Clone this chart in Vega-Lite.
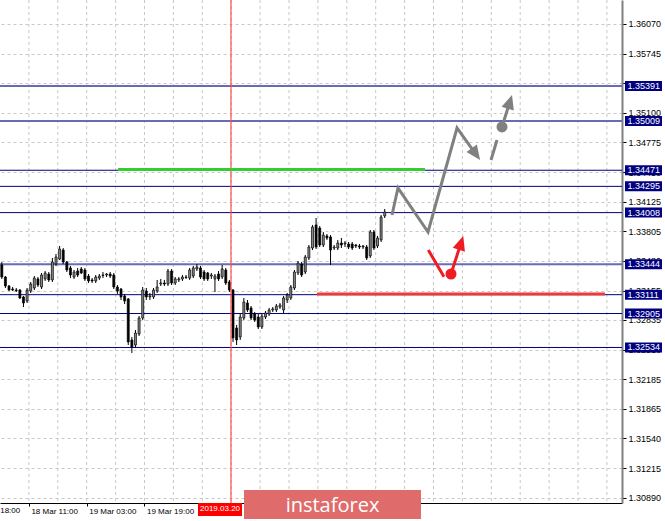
{
"$schema": "https://vega.github.io/schema/vega-lite/v6.json",
"width": 622, "height": 503,
"autosize": {"type": "none"},
"padding": {"left": 0, "top": 0, "right": 43, "bottom": 18},
"background": "white",
"config": {"view": {"stroke": null}, "font": "Liberation Sans"},
"datasets": {
"one": [{}],
"candles": [
{"t":0.5,"o":1.33436,"h":1.33468,"l":1.33283,"c":1.33304},
{"t":1.5,"o":1.33304,"h":1.33315,"l":1.33184,"c":1.33206},
{"t":2.5,"o":1.33206,"h":1.33217,"l":1.33151,"c":1.33162},
{"t":3.5,"o":1.33173,"h":1.33195,"l":1.33151,"c":1.33162},
{"t":4.5,"o":1.33162,"h":1.33184,"l":1.33140,"c":1.33157},
{"t":5.5,"o":1.33162,"h":1.33173,"l":1.33064,"c":1.33075},
{"t":6.5,"o":1.33086,"h":1.33097,"l":1.32976,"c":1.33020},
{"t":7.5,"o":1.33042,"h":1.33184,"l":1.33020,"c":1.33162},
{"t":8.5,"o":1.33151,"h":1.33250,"l":1.33130,"c":1.33228},
{"t":9.5,"o":1.33184,"h":1.33315,"l":1.33162,"c":1.33293},
{"t":10.5,"o":1.33283,"h":1.33304,"l":1.33195,"c":1.33217},
{"t":11.5,"o":1.33195,"h":1.33348,"l":1.33173,"c":1.33326},
{"t":12.5,"o":1.33283,"h":1.33370,"l":1.33261,"c":1.33348},
{"t":13.5,"o":1.33337,"h":1.33359,"l":1.33250,"c":1.33272},
{"t":14.5,"o":1.33272,"h":1.33512,"l":1.33250,"c":1.33468},
{"t":15.5,"o":1.33446,"h":1.33556,"l":1.33425,"c":1.33523},
{"t":16.5,"o":1.33501,"h":1.33643,"l":1.33490,"c":1.33610},
{"t":17.5,"o":1.33599,"h":1.33621,"l":1.33446,"c":1.33468},
{"t":18.5,"o":1.33468,"h":1.33479,"l":1.33359,"c":1.33381},
{"t":19.5,"o":1.33403,"h":1.33425,"l":1.33293,"c":1.33326},
{"t":20.5,"o":1.33304,"h":1.33381,"l":1.33283,"c":1.33359},
{"t":21.5,"o":1.33370,"h":1.33403,"l":1.33304,"c":1.33326},
{"t":22.5,"o":1.33392,"h":1.33414,"l":1.33337,"c":1.33348},
{"t":23.5,"o":1.33381,"h":1.33403,"l":1.33261,"c":1.33283},
{"t":24.5,"o":1.33315,"h":1.33337,"l":1.33239,"c":1.33261},
{"t":25.5,"o":1.33272,"h":1.33293,"l":1.33239,"c":1.33261},
{"t":26.5,"o":1.33261,"h":1.33326,"l":1.33239,"c":1.33304},
{"t":27.5,"o":1.33293,"h":1.33337,"l":1.33272,"c":1.33315},
{"t":28.5,"o":1.33326,"h":1.33359,"l":1.33293,"c":1.33321},
{"t":29.5,"o":1.33326,"h":1.33348,"l":1.33304,"c":1.33337},
{"t":30.5,"o":1.33337,"h":1.33359,"l":1.33293,"c":1.33315},
{"t":31.5,"o":1.33326,"h":1.33348,"l":1.33173,"c":1.33195},
{"t":32.5,"o":1.33195,"h":1.33217,"l":1.33119,"c":1.33151},
{"t":33.5,"o":1.33173,"h":1.33184,"l":1.33053,"c":1.33086},
{"t":34.5,"o":1.33097,"h":1.33119,"l":1.33009,"c":1.33042},
{"t":35.5,"o":1.33064,"h":1.33075,"l":1.32561,"c":1.32594},
{"t":36.5,"o":1.32616,"h":1.32649,"l":1.32474,"c":1.32539},
{"t":37.5,"o":1.32561,"h":1.32725,"l":1.32528,"c":1.32692},
{"t":38.5,"o":1.32681,"h":1.32878,"l":1.32660,"c":1.32856},
{"t":39.5,"o":1.32856,"h":1.33195,"l":1.32834,"c":1.33162},
{"t":40.5,"o":1.33151,"h":1.33184,"l":1.33053,"c":1.33086},
{"t":41.5,"o":1.33086,"h":1.33130,"l":1.33053,"c":1.33097},
{"t":42.5,"o":1.33086,"h":1.33184,"l":1.33064,"c":1.33162},
{"t":43.5,"o":1.33151,"h":1.33272,"l":1.33130,"c":1.33195},
{"t":44.5,"o":1.33228,"h":1.33283,"l":1.33206,"c":1.33239},
{"t":45.5,"o":1.33239,"h":1.33272,"l":1.33206,"c":1.33228},
{"t":46.5,"o":1.33228,"h":1.33392,"l":1.33206,"c":1.33370},
{"t":47.5,"o":1.33370,"h":1.33392,"l":1.33217,"c":1.33239},
{"t":48.5,"o":1.33239,"h":1.33304,"l":1.33217,"c":1.33283},
{"t":49.5,"o":1.33272,"h":1.33304,"l":1.33250,"c":1.33283},
{"t":50.5,"o":1.33283,"h":1.33326,"l":1.33261,"c":1.33304},
{"t":51.5,"o":1.33304,"h":1.33326,"l":1.33283,"c":1.33299},
{"t":52.5,"o":1.33293,"h":1.33403,"l":1.33272,"c":1.33381},
{"t":53.5,"o":1.33315,"h":1.33425,"l":1.33293,"c":1.33403},
{"t":54.5,"o":1.33392,"h":1.33446,"l":1.33370,"c":1.33414},
{"t":55.5,"o":1.33403,"h":1.33425,"l":1.33283,"c":1.33304},
{"t":56.5,"o":1.33359,"h":1.33381,"l":1.33261,"c":1.33283},
{"t":57.5,"o":1.33348,"h":1.33359,"l":1.33261,"c":1.33283},
{"t":58.5,"o":1.33315,"h":1.33348,"l":1.33283,"c":1.33326},
{"t":59.5,"o":1.33283,"h":1.33337,"l":1.33140,"c":1.33315},
{"t":60.5,"o":1.33337,"h":1.33370,"l":1.33261,"c":1.33283},
{"t":61.5,"o":1.33304,"h":1.33436,"l":1.33283,"c":1.33392},
{"t":62.5,"o":1.33381,"h":1.33403,"l":1.33217,"c":1.33239},
{"t":63.5,"o":1.33250,"h":1.33272,"l":1.33140,"c":1.33162},
{"t":64.5,"o":1.33162,"h":1.33173,"l":1.32594,"c":1.32638},
{"t":65.5,"o":1.32747,"h":1.32780,"l":1.32561,"c":1.32616},
{"t":66.5,"o":1.32649,"h":1.32900,"l":1.32616,"c":1.32867},
{"t":67.5,"o":1.32856,"h":1.33075,"l":1.32834,"c":1.33031},
{"t":68.5,"o":1.33020,"h":1.33053,"l":1.32922,"c":1.32944},
{"t":69.5,"o":1.32966,"h":1.32987,"l":1.32834,"c":1.32856},
{"t":70.5,"o":1.32900,"h":1.32922,"l":1.32813,"c":1.32834},
{"t":71.5,"o":1.32867,"h":1.32900,"l":1.32736,"c":1.32758},
{"t":72.5,"o":1.32758,"h":1.32900,"l":1.32736,"c":1.32878},
{"t":73.5,"o":1.32867,"h":1.32933,"l":1.32845,"c":1.32911},
{"t":74.5,"o":1.32900,"h":1.32966,"l":1.32878,"c":1.32944},
{"t":75.5,"o":1.32944,"h":1.32976,"l":1.32922,"c":1.32955},
{"t":76.5,"o":1.32944,"h":1.33009,"l":1.32922,"c":1.32987},
{"t":77.5,"o":1.32976,"h":1.33020,"l":1.32955,"c":1.32998},
{"t":78.5,"o":1.32944,"h":1.33097,"l":1.32911,"c":1.33075},
{"t":79.5,"o":1.33053,"h":1.33130,"l":1.33020,"c":1.33108},
{"t":80.5,"o":1.33075,"h":1.33217,"l":1.33053,"c":1.33195},
{"t":81.5,"o":1.33184,"h":1.33381,"l":1.33162,"c":1.33359},
{"t":82.5,"o":1.33348,"h":1.33479,"l":1.33326,"c":1.33457},
{"t":83.5,"o":1.33446,"h":1.33468,"l":1.33304,"c":1.33326},
{"t":84.5,"o":1.33359,"h":1.33545,"l":1.33337,"c":1.33523},
{"t":85.5,"o":1.33512,"h":1.33654,"l":1.33490,"c":1.33632},
{"t":86.5,"o":1.33621,"h":1.33873,"l":1.33599,"c":1.33851},
{"t":87.5,"o":1.33873,"h":1.33949,"l":1.33610,"c":1.33632},
{"t":88.5,"o":1.33840,"h":1.33862,"l":1.33632,"c":1.33654},
{"t":89.5,"o":1.33654,"h":1.33796,"l":1.33632,"c":1.33763},
{"t":90.5,"o":1.33753,"h":1.33774,"l":1.33709,"c":1.33731},
{"t":91.5,"o":1.33742,"h":1.33763,"l":1.33436,"c":1.33599},
{"t":92.5,"o":1.33621,"h":1.33654,"l":1.33599,"c":1.33632},
{"t":93.5,"o":1.33621,"h":1.33709,"l":1.33599,"c":1.33676},
{"t":94.5,"o":1.33676,"h":1.33731,"l":1.33621,"c":1.33654},
{"t":95.5,"o":1.33665,"h":1.33698,"l":1.33632,"c":1.33676},
{"t":96.5,"o":1.33665,"h":1.33687,"l":1.33610,"c":1.33632},
{"t":97.5,"o":1.33665,"h":1.33687,"l":1.33599,"c":1.33621},
{"t":98.5,"o":1.33654,"h":1.33665,"l":1.33621,"c":1.33643},
{"t":99.5,"o":1.33643,"h":1.33665,"l":1.33610,"c":1.33632},
{"t":100.5,"o":1.33632,"h":1.33654,"l":1.33610,"c":1.33643},
{"t":101.5,"o":1.33632,"h":1.33654,"l":1.33490,"c":1.33512},
{"t":102.5,"o":1.33534,"h":1.33818,"l":1.33512,"c":1.33796},
{"t":103.5,"o":1.33796,"h":1.33818,"l":1.33599,"c":1.33621},
{"t":104.5,"o":1.33643,"h":1.33753,"l":1.33621,"c":1.33731},
{"t":105.5,"o":1.33709,"h":1.33982,"l":1.33687,"c":1.33960},
{"t":106.5,"o":1.33971,"h":1.34048,"l":1.33949,"c":1.34015}
],
"levels": [{"p":1.35391},{"p":1.35009},{"p":1.34471},{"p":1.34295},{"p":1.34008},{"p":1.33444},{"p":1.33111},{"p":1.32905},{"p":1.32534}],
"vgrid": [{"t":8},{"t":16},{"t":24},{"t":32},{"t":40},{"t":48},{"t":56},{"t":64},{"t":72},{"t":80},{"t":88},{"t":96},{"t":104},{"t":112},{"t":120},{"t":128},{"t":136},{"t":144},{"t":152},{"t":160},{"t":168}],
"grayPath": [
{"g":"a","k":1,"t":108.51,"p":1.33982},{"g":"a","k":2,"t":110.17,"p":1.34277},{"g":"a","k":3,"t":118.48,"p":1.33796},{"g":"a","k":4,"t":126.51,"p":1.34933},{"g":"a","k":5,"t":131.6,"p":1.34654},
{"g":"b","k":1,"t":135.92,"p":1.34583},{"g":"b","k":2,"t":137.58,"p":1.34802},
{"g":"c","k":1,"t":138.96,"p":1.34944},{"g":"c","k":2,"t":141.07,"p":1.35211}
],
"redPath": [
{"g":"a","k":1,"t":118.56,"p":1.33599},{"g":"a","k":2,"t":122.9,"p":1.33308},
{"g":"b","k":1,"t":124.84,"p":1.33337},{"g":"b","k":2,"t":127.56,"p":1.33669}
]
},
"layer": [
{"data": {"name": "vgrid"}, "mark": {"type": "rule", "color": "#c8c8c8", "strokeDash": [3,3], "strokeWidth": 1},
 "encoding": {"x": {"field": "t", "type": "quantitative", "scale": {"domain": [0,172.18], "nice": false, "zero": false, "padding": 0},
   "title": null,
   "axis": {"orient": "bottom", "values": [8,24,40], "tickCount": 30, "labelExpr": "datum.value == 8 ? '18 Mar 11:00' : datum.value == 24 ? '19 Mar 03:00' : '19 Mar 19:00'", "grid": false, "domainColor": "#000000", "domainWidth": 1, "tickColor": "#000000", "tickSize": 3, "labelFont": "Liberation Sans", "labelFontSize": 8, "labelColor": "#000000", "labelAlign": "left", "labelOffset": 2, "labelPadding": 1, "labelFlush": false, "labelOverlap": false}}}},
{"data": {"name": "levels"}, "mark": {"type": "rule"},
 "encoding": {"y": {"field": "p", "type": "quantitative", "scale": {"domain": [1.30834,1.36332], "nice": false, "zero": false, "padding": 0},
   "title": null,
   "axis": {"orient": "right", "values": [1.3607,1.35745,1.3542,1.351,1.34775,1.3445,1.34125,1.33805,1.3348,1.33155,1.32835,1.3251,1.32185,1.31865,1.3154,1.31215,1.3089], "tickCount": 40, "format": ".5f", "grid": true, "gridColor": "#c8c8c8", "gridDash": [3,3], "gridWidth": 1, "domainColor": "#808080", "domainWidth": 2, "tickColor": "#000000", "tickSize": 4, "labelFont": "Liberation Sans", "labelFontSize": 9, "labelColor": "#000000", "labelPadding": 2, "labelBaseline": "middle", "labelFlush": false, "labelOverlap": false}},
  "color": {"condition": {"test": "datum.p == 1.35391 || datum.p == 1.35009 || datum.p == 1.33444", "value": "#6a6ab6"}, "value": "#00007a"},
  "strokeWidth": {"condition": {"test": "datum.p == 1.35391 || datum.p == 1.35009 || datum.p == 1.33444", "value": 2}, "value": 1}}},
{"data": {"name": "candles"}, "mark": {"type": "rule", "color": "#000000", "strokeWidth": 1},
 "encoding": {"x": {"field": "t", "type": "quantitative", "scale": {"domain": [0,172.18], "nice": false, "zero": false, "padding": 0}, "title": null},
  "y": {"field": "l", "type": "quantitative", "scale": {"domain": [1.30834,1.36332], "nice": false, "zero": false, "padding": 0}, "title": null},
  "y2": {"field": "h"}}},
{"data": {"name": "candles"}, "mark": {"type": "bar", "width": 2, "strokeWidth": 0.7},
 "encoding": {"x": {"field": "t", "type": "quantitative", "scale": {"domain": [0,172.18], "nice": false, "zero": false, "padding": 0}, "title": null},
  "y": {"field": "o", "type": "quantitative", "scale": {"domain": [1.30834,1.36332], "nice": false, "zero": false, "padding": 0}, "title": null},
  "y2": {"field": "c"},
  "fill": {"condition": {"test": "datum.c > datum.o", "value": "#8a8a8a"}, "value": "#000000"},
  "stroke": {"value": "#000000"}}},
{"data": {"name": "one"}, "mark": {"type": "rule", "color": "#ff4d4d", "strokeWidth": 1.2},
 "encoding": {"x": {"datum": 63.94, "type": "quantitative", "scale": {"domain": [0,172.18], "nice": false, "zero": false, "padding": 0}, "title": null}}},
{"data": {"name": "one"}, "mark": {"type": "rule", "color": "#33cc33", "strokeWidth": 3},
 "encoding": {"x": {"datum": 32.66, "type": "quantitative", "scale": {"domain": [0,172.18], "nice": false, "zero": false, "padding": 0}, "title": null},
  "x2": {"datum": 117.65},
  "y": {"datum": 1.3448, "type": "quantitative", "scale": {"domain": [1.30834,1.36332], "nice": false, "zero": false, "padding": 0}, "title": null}}},
{"data": {"name": "one"}, "mark": {"type": "rule", "color": "#f03a3a", "strokeWidth": 3},
 "encoding": {"x": {"datum": 87.75, "type": "quantitative", "scale": {"domain": [0,172.18], "nice": false, "zero": false, "padding": 0}, "title": null},
  "x2": {"datum": 167.47},
  "y": {"datum": 1.33118, "type": "quantitative", "scale": {"domain": [1.30834,1.36332], "nice": false, "zero": false, "padding": 0}, "title": null}}},
{"data": {"name": "grayPath"}, "mark": {"type": "line", "color": "#808080", "strokeWidth": 3, "strokeCap": "butt"},
 "encoding": {"x": {"field": "t", "type": "quantitative", "scale": {"domain": [0,172.18], "nice": false, "zero": false, "padding": 0}, "title": null},
  "y": {"field": "p", "type": "quantitative", "scale": {"domain": [1.30834,1.36332], "nice": false, "zero": false, "padding": 0}, "title": null},
  "detail": {"field": "g"}, "order": {"field": "k"}}},
{"data": {"name": "redPath"}, "mark": {"type": "line", "color": "#f01c24", "strokeWidth": 3, "strokeCap": "butt"},
 "encoding": {"x": {"field": "t", "type": "quantitative", "scale": {"domain": [0,172.18], "nice": false, "zero": false, "padding": 0}, "title": null},
  "y": {"field": "p", "type": "quantitative", "scale": {"domain": [1.30834,1.36332], "nice": false, "zero": false, "padding": 0}, "title": null},
  "detail": {"field": "g"}, "order": {"field": "k"}}},
{"data": {"name": "one"}, "mark": {"type": "point", "shape": "M0,-1L0.8,0.8L-0.8,0.8Z", "size": 256, "filled": true, "opacity": 1, "color": "#808080", "angle": 144.3},
 "encoding": {"x": {"datum": 131.6, "type": "quantitative", "scale": {"domain": [0,172.18], "nice": false, "zero": false, "padding": 0}, "title": null},
  "y": {"datum": 1.34654, "type": "quantitative", "scale": {"domain": [1.30834,1.36332], "nice": false, "zero": false, "padding": 0}, "title": null}}},
{"data": {"name": "one"}, "mark": {"type": "point", "shape": "M0,-1L0.8,0.8L-0.8,0.8Z", "size": 256, "filled": true, "opacity": 1, "color": "#808080", "angle": 17.3},
 "encoding": {"x": {"datum": 141.07, "type": "quantitative", "scale": {"domain": [0,172.18], "nice": false, "zero": false, "padding": 0}, "title": null},
  "y": {"datum": 1.35211, "type": "quantitative", "scale": {"domain": [1.30834,1.36332], "nice": false, "zero": false, "padding": 0}, "title": null}}},
{"data": {"name": "one"}, "mark": {"type": "point", "shape": "circle", "size": 121, "filled": true, "opacity": 1, "color": "#808080"},
 "encoding": {"x": {"datum": 138.96, "type": "quantitative", "scale": {"domain": [0,172.18], "nice": false, "zero": false, "padding": 0}, "title": null},
  "y": {"datum": 1.34944, "type": "quantitative", "scale": {"domain": [1.30834,1.36332], "nice": false, "zero": false, "padding": 0}, "title": null}}},
{"data": {"name": "one"}, "mark": {"type": "point", "shape": "M0,-1L0.8,0.8L-0.8,0.8Z", "size": 256, "filled": true, "opacity": 1, "color": "#f01c24", "angle": 17.9},
 "encoding": {"x": {"datum": 127.56, "type": "quantitative", "scale": {"domain": [0,172.18], "nice": false, "zero": false, "padding": 0}, "title": null},
  "y": {"datum": 1.33669, "type": "quantitative", "scale": {"domain": [1.30834,1.36332], "nice": false, "zero": false, "padding": 0}, "title": null}}},
{"data": {"name": "one"}, "mark": {"type": "point", "shape": "circle", "size": 121, "filled": true, "opacity": 1, "color": "#f01c24"},
 "encoding": {"x": {"datum": 124.84, "type": "quantitative", "scale": {"domain": [0,172.18], "nice": false, "zero": false, "padding": 0}, "title": null},
  "y": {"datum": 1.33337, "type": "quantitative", "scale": {"domain": [1.30834,1.36332], "nice": false, "zero": false, "padding": 0}, "title": null}}},
{"data": {"name": "levels"}, "mark": {"type": "point", "shape": "M-1,-0.27L1,-0.27L1,0.27L-1,0.27Z", "size": 1369, "filled": true, "opacity": 1, "color": "#000080"},
 "encoding": {"x": {"datum": 178.13, "type": "quantitative", "scale": {"domain": [0,172.18], "nice": false, "zero": false, "padding": 0}, "title": null},
  "y": {"field": "p", "type": "quantitative", "scale": {"domain": [1.30834,1.36332], "nice": false, "zero": false, "padding": 0}, "title": null}}},
{"data": {"name": "levels"}, "mark": {"type": "text", "align": "left", "baseline": "middle", "color": "#ffffff", "font": "Liberation Sans", "fontSize": 9},
 "encoding": {"x": {"datum": 173.7, "type": "quantitative", "scale": {"domain": [0,172.18], "nice": false, "zero": false, "padding": 0}, "title": null},
  "y": {"field": "p", "type": "quantitative", "scale": {"domain": [1.30834,1.36332], "nice": false, "zero": false, "padding": 0}, "title": null},
  "text": {"field": "p", "type": "quantitative", "format": ".5f"}}},
{"data": {"name": "one"}, "mark": {"type": "text", "align": "left", "baseline": "top", "dx": 2, "color": "#000000", "font": "Liberation Sans", "fontSize": 8, "text": "15 Mar 18:00"},
 "encoding": {"x": {"datum": -8, "type": "quantitative", "scale": {"domain": [0,172.18], "nice": false, "zero": false, "padding": 0}, "title": null},
  "y": {"datum": 1.30791, "type": "quantitative", "scale": {"domain": [1.30834,1.36332], "nice": false, "zero": false, "padding": 0}, "title": null}}},
{"data": {"name": "one"}, "mark": {"type": "point", "shape": "M-1,-0.295L1,-0.295L1,0.295L-1,0.295Z", "size": 1936, "filled": true, "opacity": 1, "color": "#ff0000"},
 "encoding": {"x": {"datum": 60.9, "type": "quantitative", "scale": {"domain": [0,172.18], "nice": false, "zero": false, "padding": 0}, "title": null},
  "y": {"datum": 1.30763, "type": "quantitative", "scale": {"domain": [1.30834,1.36332], "nice": false, "zero": false, "padding": 0}, "title": null}}},
{"data": {"name": "one"}, "mark": {"type": "text", "align": "center", "baseline": "middle", "color": "#ffffff", "font": "Liberation Sans", "fontSize": 8, "text": "2019.03.20"},
 "encoding": {"x": {"datum": 60.9, "type": "quantitative", "scale": {"domain": [0,172.18], "nice": false, "zero": false, "padding": 0}, "title": null},
  "y": {"datum": 1.30763, "type": "quantitative", "scale": {"domain": [1.30834,1.36332], "nice": false, "zero": false, "padding": 0}, "title": null}}},
{"data": {"name": "one"}, "mark": {"type": "point", "shape": "M-1,-0.1638L1,-0.1638L1,0.1638L-1,0.1638Z", "size": 31329, "filled": true, "opacity": 1, "color": "#e06b6b"},
 "encoding": {"x": {"datum": 92.04, "type": "quantitative", "scale": {"domain": [0,172.18], "nice": false, "zero": false, "padding": 0}, "title": null},
  "y": {"datum": 1.30818, "type": "quantitative", "scale": {"domain": [1.30834,1.36332], "nice": false, "zero": false, "padding": 0}, "title": null}}},
{"data": {"name": "one"}, "mark": {"type": "text", "align": "center", "baseline": "alphabetic", "color": "#ffffff", "font": "Open Sans", "fontSize": 20, "text": "instaforex"},
 "encoding": {"x": {"datum": 92.04, "type": "quantitative", "scale": {"domain": [0,172.18], "nice": false, "zero": false, "padding": 0}, "title": null},
  "y": {"datum": 1.30741, "type": "quantitative", "scale": {"domain": [1.30834,1.36332], "nice": false, "zero": false, "padding": 0}, "title": null}}}
]
}
